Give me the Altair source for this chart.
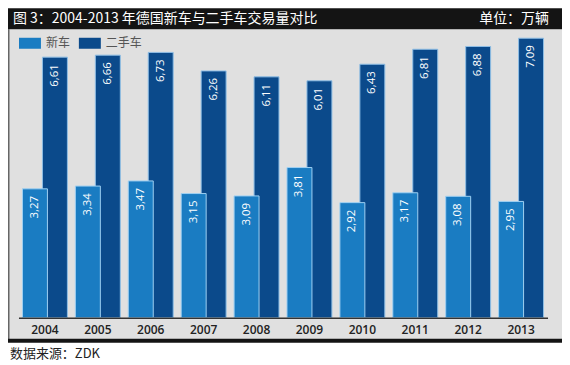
import altair as alt
import pandas as pd

years = ["2004", "2005", "2006", "2007", "2008", "2009", "2010", "2011", "2012", "2013"]
new_cars = [3.27, 3.34, 3.47, 3.15, 3.09, 3.81, 2.92, 3.17, 3.08, 2.95]
used_cars = [6.61, 6.66, 6.73, 6.26, 6.11, 6.01, 6.43, 6.81, 6.88, 7.09]
series = ["新车", "二手车"]
colors = ["#1a7cc2", "#0b4a8b"]

title_text = "图 3：2004-2013 年德国新车与二手车交易量对比"
unit_text = "单位：万辆"
source_text = "数据来源：ZDK"

rows = []
for y, n, u in zip(years, new_cars, used_cars):
    rows.append({"year": y, "series": series[0], "value": n})
    rows.append({"year": y, "series": series[1], "value": u})
df = pd.DataFrame(rows)

W, H = 555, 310
one = pd.DataFrame({"k": [0]})
cjk = "'Noto Sans CJK SC', sans-serif"

x_enc = alt.X("year:N", scale=alt.Scale(domain=years, range=[10.5, 540.5], paddingInner=0, paddingOuter=0),
              axis=alt.Axis(title=None, ticks=False, domainColor="#333", domainWidth=1.5,
                            labelFont="Open Sans", labelFontSize=12, labelFontWeight=600,
                            labelColor="#222", labelPadding=7, labelAngle=0, zindex=2))
y_enc = alt.Y("value:Q", scale=alt.Scale(domain=[0, 7.848], nice=False, zero=False), axis=None)
color_enc = alt.Color("series:N", scale=alt.Scale(domain=series, range=colors),
                      legend=alt.Legend(title=None, orient="none", legendX=11, legendY=24,
                                        direction="horizontal",
                                        symbolType="M-1,-0.5L1,-0.5L1,0.5L-1,0.5Z",
                                        symbolSize=484, symbolStrokeWidth=0, symbolOpacity=1,
                                        labelFont=cjk, labelFontSize=12,
                                        labelColor="#555", labelOffset=5, columnPadding=8))

base = alt.Chart(df).transform_calculate(
    label="replace(format(datum.value, '.2f'), '.', ',')"
)

panel = alt.Chart(one).mark_rect(color="#e0e0e0").encode(
    x=alt.value(0), x2=alt.value(W), y=alt.value(21), y2=alt.value(333))
left_border = alt.Chart(one).mark_rect(color="#666").encode(
    x=alt.value(0), x2=alt.value(1.5), y=alt.value(21), y2=alt.value(333))
title_bar = alt.Chart(one).mark_rect(color="#141414").encode(
    x=alt.value(0), x2=alt.value(W), y=alt.value(0), y2=alt.value(21))
bottom_bar = alt.Chart(one).mark_rect(color="#141414").encode(
    x=alt.value(0), x2=alt.value(W), y=alt.value(331), y2=alt.value(335))

title_t = alt.Chart(one).mark_text(align="left", baseline="middle", color="white",
                                   font=cjk, fontSize=14).encode(
    x=alt.value(5), y=alt.value(11), text=alt.value(title_text))
unit_t = alt.Chart(one).mark_text(align="right", baseline="middle", color="white",
                                  font=cjk, fontSize=14).encode(
    x=alt.value(542), y=alt.value(11), text=alt.value(unit_text))
source_t = alt.Chart(one).mark_text(align="left", baseline="middle", color="#222",
                                    font=cjk, fontSize=13).encode(
    x=alt.value(2), y=alt.value(346), text=alt.value(source_text))

used_bars = base.transform_filter(alt.datum.series == series[1]).mark_bar(
    width=25, xOffset=10, stroke="#8fbfe6", strokeWidth=1, opacity=1).encode(
    x=x_enc, y=y_enc, y2=alt.datum(0), color=color_enc)
new_bars = base.transform_filter(alt.datum.series == series[0]).mark_bar(
    width=25, xOffset=-10, stroke="#9fd0f2", strokeWidth=1, opacity=1).encode(
    x=x_enc, y=y_enc, y2=alt.datum(0), color=color_enc)

used_lbl = base.transform_filter(alt.datum.series == series[1]).mark_text(
    angle=270, align="right", baseline="middle", dx=-7, xOffset=10, color="white",
    font="Open Sans", fontSize=11.5).encode(x=x_enc, y=y_enc, text="label:N")
new_lbl = base.transform_filter(alt.datum.series == series[0]).mark_text(
    angle=270, align="right", baseline="middle", dx=-7, xOffset=-10, color="white",
    font="Open Sans", fontSize=11.5).encode(x=x_enc, y=y_enc, text="label:N")

chart = alt.layer(
    panel, left_border, title_bar, bottom_bar, title_t, unit_t, source_t,
    used_bars, new_bars, used_lbl, new_lbl
).properties(
    width=W, height=H,
    autosize=alt.AutoSizeParams(type="none"),
    padding={"left": 0, "top": 0, "right": 0, "bottom": 47},
    background="white"
).configure_view(stroke=None)

chart.save("out.html", embed_options={"renderer": "svg", "actions": False})
